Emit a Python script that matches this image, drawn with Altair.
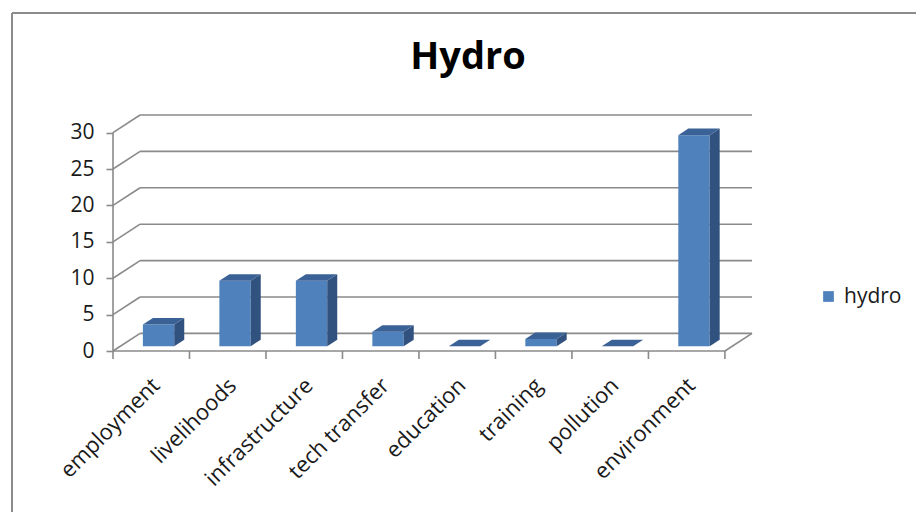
import altair as alt
import pandas as pd

# Hydro scores per category
categories = ["employment", "livelihoods", "infrastructure", "tech transfer",
              "education", "training", "pollution", "environment"]
hydro = [3, 9, 9, 2, 0, 1, 0, 29]
series_name = "hydro"
y_ticks = [0, 5, 10, 15, 20, 25, 30]

N = len(categories)
Y_MAX = 30
DEPTH_X = 0.354      # back-wall shift in category units
DEPTH_Y = 2.42       # back-wall shift in value units
F0, F1 = 0.27, 0.64  # front / back depth of the bars (fraction of wall depth)
BAR_W = 0.41
W, H = 639, 236

FONT = "Open Sans"
GRID = "#8a8a8a"
FRONT = "#4F81BD"
SIDE = "#31527e"
TOP = "#3b6296"

xs = alt.Scale(domain=[0, N + DEPTH_X], nice=False, zero=False)
ys = alt.Scale(domain=[0, Y_MAX + DEPTH_Y], nice=False, zero=False)
y_axis = alt.Axis(values=y_ticks, domain=False, grid=False, tickSize=7, tickColor=GRID,
                  tickWidth=1.6, labelFont=FONT, labelFontSize=21, labelColor="#1a1a1a",
                  labelPadding=12, title=None)

# ---- wall / floor lines ----
lines = []
k = 0
def seg(x0, y0, x1, y1):
    global k
    lines.append({"id": k, "o": 0, "x": x0, "y": y0})
    lines.append({"id": k, "o": 1, "x": x1, "y": y1})
    k += 1

for t in y_ticks:
    seg(DEPTH_X, t + DEPTH_Y, N + DEPTH_X, t + DEPTH_Y)   # back wall
    seg(0, t, DEPTH_X, t + DEPTH_Y)                       # side wall
seg(0, 0, N, 0)                                           # floor front edge
seg(N, 0, N + DEPTH_X, DEPTH_Y)                           # floor right edge
seg(0, 0, 0, Y_MAX)                                       # value axis line
lines_df = pd.DataFrame(lines)

# ---- bar faces ----
front_rows, side_rows, top_rows = [], [], []
for i, (c, v) in enumerate(zip(categories, hydro)):
    left = i + 0.5 - BAR_W / 2
    front_rows.append({"cat": c, "series": series_name, "value": v,
                       "x0": left + F0 * DEPTH_X, "x1": left + BAR_W + F0 * DEPTH_X,
                       "y0": F0 * DEPTH_Y, "y1": v + F0 * DEPTH_Y})
    for f in (F0, F1):
        side_rows.append({"cat": c, "x": left + BAR_W + f * DEPTH_X,
                          "ylo": f * DEPTH_Y, "yhi": v + f * DEPTH_Y})
        top_rows.append({"cat": c, "y": v + f * DEPTH_Y,
                         "xl": left + f * DEPTH_X, "xr": left + BAR_W + f * DEPTH_X})
front_df = pd.DataFrame(front_rows)
side_df = pd.DataFrame(side_rows)
top_df = pd.DataFrame(top_rows)

cat_df = pd.DataFrame({"cat": categories, "pos": [i + 0.5 for i in range(N)]})
tick_df = pd.DataFrame({"b": list(range(N + 1))})

walls = alt.Chart(lines_df).mark_line(color=GRID, strokeWidth=1.6).encode(
    x=alt.X("x:Q", scale=xs, axis=None),
    y=alt.Y("y:Q", scale=ys, axis=y_axis),
    detail="id:N",
    order="o:Q",
)

front = alt.Chart(front_df).mark_rect().encode(
    x=alt.X("x0:Q", scale=xs, axis=None),
    x2="x1:Q",
    y=alt.Y("y0:Q", scale=ys, axis=y_axis),
    y2="y1:Q",
    color=alt.Color("series:N",
                    scale=alt.Scale(domain=[series_name], range=[FRONT]),
                    legend=alt.Legend(title=None, orient="none", legendX=705, legendY=171,
                                      symbolType="square", symbolSize=115,
                                      symbolStrokeWidth=0, labelFont=FONT,
                                      labelFontSize=21, labelColor="#1a1a1a",
                                      padding=0, labelOffset=5)),
)

side = alt.Chart(side_df).mark_area(orient="vertical", color=SIDE).encode(
    x=alt.X("x:Q", scale=xs, axis=None),
    y=alt.Y("yhi:Q", scale=ys, axis=y_axis),
    y2="ylo:Q",
    detail="cat:N",
)

top = alt.Chart(top_df).mark_area(orient="horizontal", color=TOP).encode(
    y=alt.Y("y:Q", scale=ys, axis=y_axis),
    x=alt.X("xl:Q", scale=xs, axis=None),
    x2="xr:Q",
    detail="cat:N",
)

cat_ticks = alt.Chart(tick_df).mark_rule(color=GRID, strokeWidth=1.6).encode(
    x=alt.X("b:Q", scale=xs, axis=None),
    y=alt.value(H),
    y2=alt.value(H + 8),
)

cat_labels = alt.Chart(cat_df).mark_text(
    angle=315, align="right", baseline="middle", font=FONT, fontSize=22,
    color="#1a1a1a", dx=7, dy=0,
).encode(
    x=alt.X("pos:Q", scale=xs, axis=None),
    y=alt.value(H + 36),
    text="cat:N",
)

title = alt.Chart(pd.DataFrame({"t": ["Hydro"]})).mark_text(
    font=FONT, fontSize=38, fontWeight="bold", color="#000000",
    align="center", baseline="alphabetic",
).encode(
    x=alt.value(468 - 113),
    y=alt.value(69 - 115),
    text="t:N",
)

frame_left = alt.Chart(pd.DataFrame({"a": [0]})).mark_rule(color="#8c8c8c", strokeWidth=2).encode(
    x=alt.value(-101), y=alt.value(-102), y2=alt.value(420))
frame_top = alt.Chart(pd.DataFrame({"a": [0]})).mark_rule(color="#8c8c8c", strokeWidth=2).encode(
    x=alt.value(-101), x2=alt.value(820), y=alt.value(-102))

chart = alt.layer(
    frame_left, frame_top, walls, cat_ticks, front, side, top, cat_labels, title
).properties(
    width=W, height=H,
    background="white",
    autosize=alt.AutoSizeParams(type="none"),
    padding={"left": 113, "top": 115, "right": 164, "bottom": 161},
).configure_view(strokeWidth=0, stroke="transparent")

chart.save("out.html", embed_options={"renderer": "svg", "actions": False})
